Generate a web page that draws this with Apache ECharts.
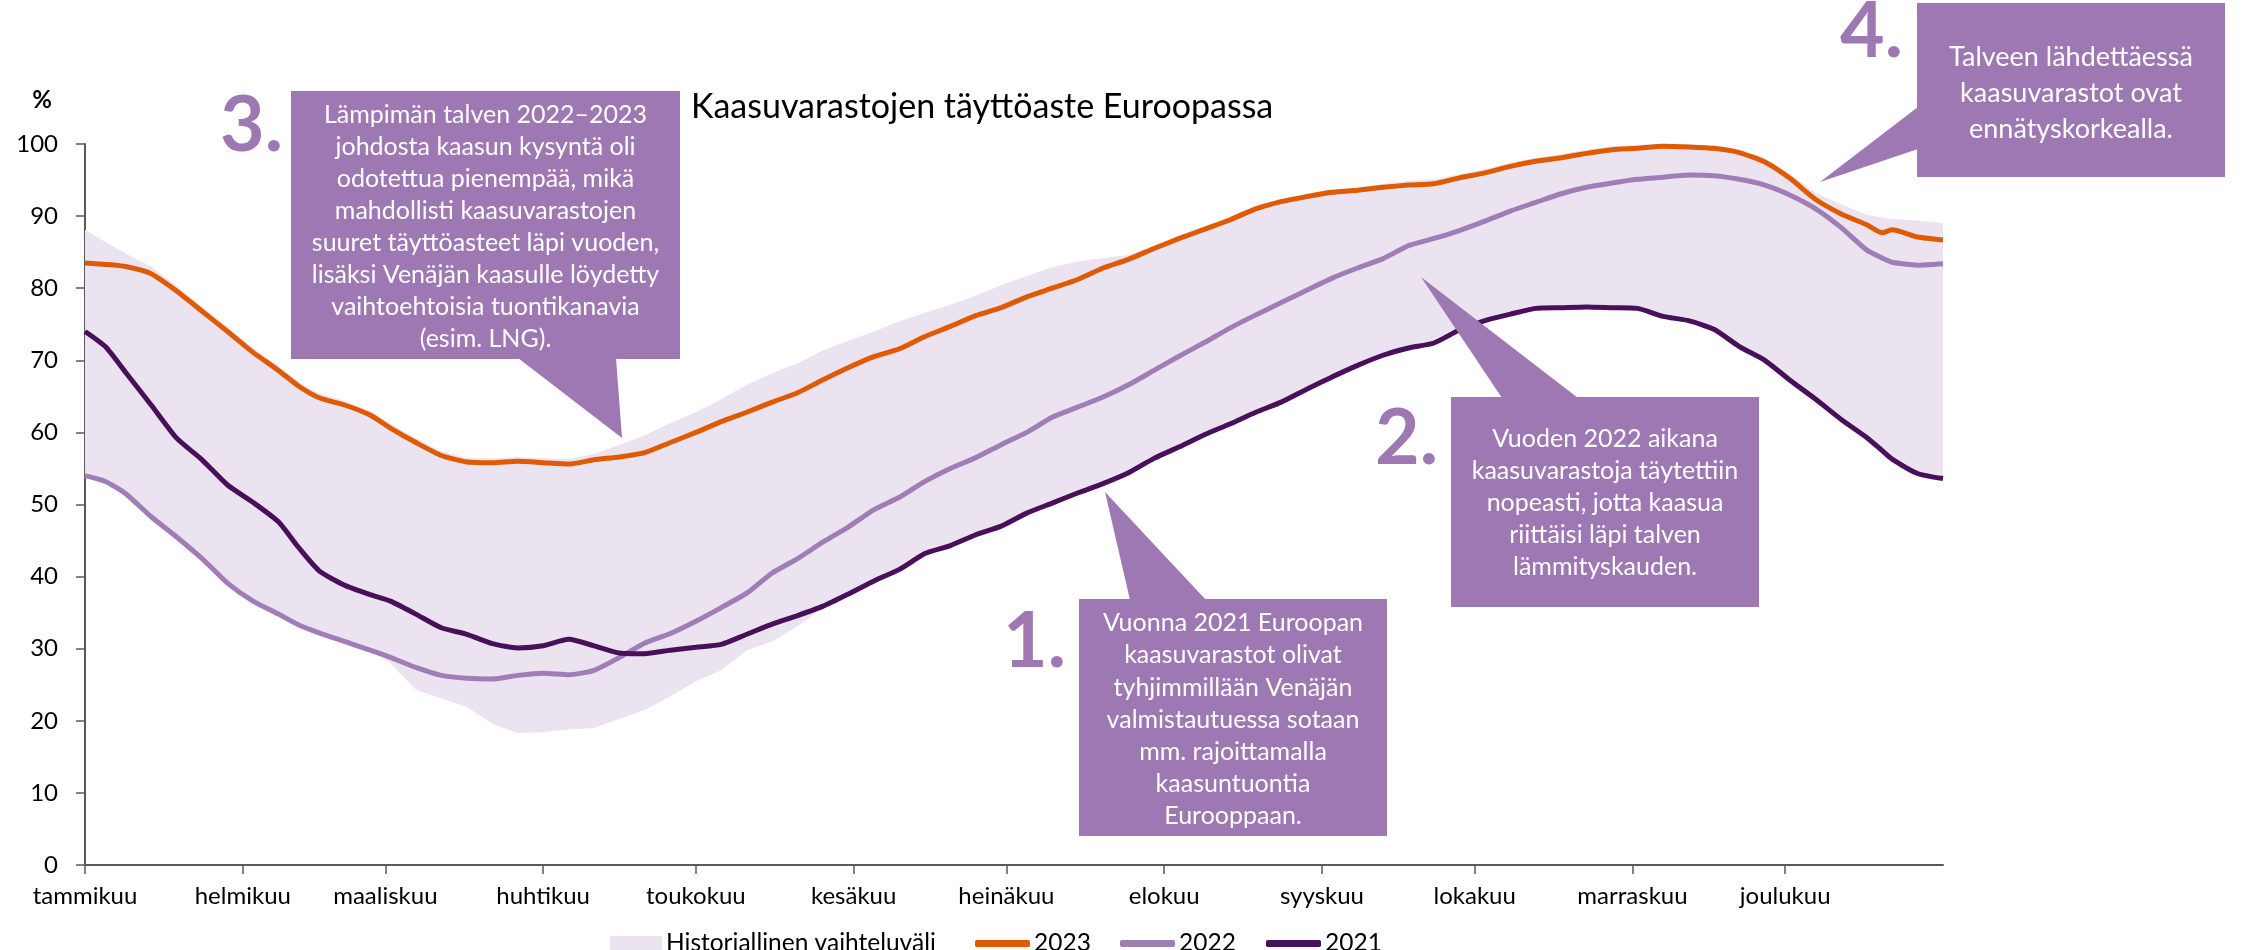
<!DOCTYPE html>
<html>
<head>
<meta charset="utf-8">
<script src="https://cdn.jsdelivr.net/npm/echarts@6/dist/echarts.min.js"></script>
<style>
html,body{margin:0;padding:0;background:#ffffff;}
#chart{width:2244px;height:950px;}
</style>
</head>
<body>
<div id="chart"></div>
<script>
// ---- Data (day of year, storage fill %) ----
const days = [0,4,8,13,18,23,28,33,38,42,46,51,56,60,65,70,75,80,85,90,95,100,105,110,115,120,125,130,135,140,145,150,155,160,165,170,175,180,185,190,195,200,205,210,215,220,225,230,235,240,245,250,255,260,265,270,275,280,285,290,295,300,305,310,315,320,325,330,335,340,345,350,353,355,360,365];

const s2023 = [83.5,83.3,83.0,82.0,79.6,76.8,74.0,71.1,68.6,66.4,64.8,63.8,62.4,60.6,58.6,56.8,55.9,55.8,56.0,55.8,55.6,56.2,56.6,57.2,58.6,60.0,61.5,62.8,64.2,65.5,67.3,69.0,70.5,71.6,73.3,74.7,76.2,77.3,78.8,80.0,81.2,82.8,84.0,85.5,86.9,88.2,89.5,91.0,92.0,92.7,93.3,93.6,94.0,94.3,94.5,95.3,96.0,96.9,97.6,98.1,98.7,99.2,99.4,99.7,99.6,99.4,98.8,97.5,95.2,92.3,90.3,88.8,87.7,88.1,87.1,86.7];

const s2022 = [54.0,53.2,51.5,48.3,45.5,42.5,39.1,36.6,34.8,33.3,32.2,31.0,29.8,28.8,27.4,26.3,25.9,25.8,26.3,26.6,26.4,27.0,28.8,30.8,32.1,33.8,35.7,37.7,40.5,42.5,44.8,46.9,49.3,51.0,53.2,55.0,56.5,58.3,60.0,62.1,63.5,64.9,66.6,68.6,70.6,72.5,74.5,76.3,78.0,79.7,81.4,82.8,84.1,85.9,86.9,88.0,89.3,90.7,91.9,93.1,94.0,94.6,95.1,95.4,95.7,95.6,95.1,94.3,92.9,91.0,88.4,85.3,84.2,83.6,83.2,83.4];

const s2021 = [74.0,71.9,68.3,63.8,59.2,56.2,52.7,50.3,47.6,44.0,40.8,38.8,37.5,36.6,34.8,32.9,32.0,30.7,30.1,30.4,31.3,30.4,29.4,29.3,29.8,30.2,30.6,32.0,33.4,34.6,35.9,37.6,39.4,41.0,43.2,44.3,45.8,47.0,48.8,50.2,51.6,52.9,54.4,56.4,58.0,59.7,61.2,62.8,64.2,66.0,67.7,69.3,70.7,71.7,72.4,74.2,75.5,76.4,77.2,77.3,77.4,77.3,77.2,76.1,75.5,74.3,71.9,70.0,67.2,64.6,61.8,59.3,57.5,56.3,54.3,53.6];

// Historical range (lower and upper edge)
const bandLow = [54.0,53.2,51.5,48.3,45.5,42.5,39.1,36.6,34.8,33.3,32.2,31.0,29.8,28.0,24.3,23.1,21.9,19.6,18.3,18.4,18.8,19.0,20.3,21.5,23.4,25.5,27.0,29.8,31.0,33.1,35.7,37.6,39.4,41.0,43.2,44.3,45.8,47.0,48.8,50.2,51.6,52.9,54.4,56.4,58.0,59.7,61.2,62.8,64.2,66.0,67.7,69.3,70.7,71.7,72.4,74.2,75.5,76.4,77.2,77.3,77.4,77.3,77.2,76.1,75.5,74.3,71.9,70.0,67.2,64.6,61.8,59.3,57.5,56.3,54.3,53.6];

const bandHigh = [88.1,86.4,84.8,83.0,80.3,77.4,74.6,71.7,69.2,67.0,65.4,64.4,63.0,61.2,59.2,57.4,56.5,56.4,56.6,56.4,56.3,57.0,58.3,59.6,61.3,62.8,64.6,66.6,68.2,69.6,71.4,72.7,74.0,75.4,76.6,77.7,79.0,80.4,81.7,82.9,83.7,84.2,84.6,85.9,87.3,88.6,89.9,91.4,92.4,93.1,93.7,94.0,94.5,94.9,95.1,95.8,96.5,97.4,98.1,98.6,99.2,99.7,99.9,100.0,100.0,99.8,99.2,98.0,95.8,93.2,91.6,90.2,89.8,89.6,89.4,89.0];

const monthStarts = [0,31,59,90,120,151,181,212,243,273,304,334];
const monthNames = ['tammikuu','helmikuu','maaliskuu','huhtikuu','toukokuu','kesäkuu','heinäkuu','elokuu','syyskuu','lokakuu','marraskuu','joulukuu'];

const titleText = 'Kaasuvarastojen täyttöaste Euroopassa';
const bandName = 'Historiallinen vaihteluväli';

const note1 = 'Vuonna 2021 Euroopan\nkaasuvarastot olivat\ntyhjimmillään Venäjän\nvalmistautuessa sotaan\nmm. rajoittamalla\nkaasuntuontia\nEurooppaan.';
const note2 = 'Vuoden 2022 aikana\nkaasuvarastoja täytettiin\nnopeasti, jotta kaasua\nriittäisi läpi talven\nlämmityskauden.';
const note3 = 'Lämpimän talven 2022–2023\njohdosta kaasun kysyntä oli\nodotettua pienempää, mikä\nmahdollisti kaasuvarastojen\nsuuret täyttöasteet läpi vuoden,\nlisäksi Venäjän kaasulle löydetty\nvaihtoehtoisia tuontikanavia\n(esim. LNG).';
const note4 = 'Talveen lähdettäessä\nkaasuvarastot ovat\nennätyskorkealla.';

// ---- Styles ----
const C_ORANGE = '#df5a00';
const C_2022 = '#a07db6';
const C_2021 = '#4a0f5a';
const C_BAND = '#ebe3f0';
const C_BOX = '#9e78b3';
const C_AXIS = '#595959';
const FONT = 'Lato';

function pairs(vals){ return days.map((d,i)=>[d, vals[i]]); }

const chart = echarts.init(document.getElementById('chart'), null, {renderer:'canvas'});

function box(x,y,w,h,poly){
  return [
    {type:'rect', z:100, shape:{x:x,y:y,width:w,height:h}, style:{fill:C_BOX}},
    {type:'polygon', z:100, shape:{points:poly}, style:{fill:C_BOX}}
  ];
}
function boxText(cx, top, txt, size, lh){
  return {type:'text', z:101, style:{text:txt, x:cx, y:top, fill:'#ffffff', font:'normal '+size+'px '+FONT, textAlign:'center', textVerticalAlign:'top', lineHeight:lh}};
}
function bigNum(rx, cy, txt){
  return {type:'text', z:101, style:{text:txt, x:rx, y:cy, fill:C_BOX, font:'bold 77px '+FONT, textAlign:'right', textVerticalAlign:'middle'}};
}

const graphics = [].concat(
  box(291,91,389,268,[[518,358],[616,358],[622,438]]),
  box(1079,599,308,237,[[1130,600],[1206,600],[1105,492]]),
  box(1451,397,308,210,[[1502,398],[1578,398],[1421,277]]),
  box(1917,3,308,174,[[1918,107],[1918,149],[1820,182]]),
  [
    boxText(485.5, 99, note3, 25, 32),
    boxText(1233, 607, note1, 25, 32.2),
    boxText(1605, 423, note2, 25, 32),
    boxText(2071, 39, note4, 27, 36),
    bigNum(283, 126, '3.'),
    bigNum(1066, 642, '1.'),
    bigNum(1438, 439, '2.'),
    bigNum(1903, 32, '4.'),
    {type:'text', z:101, style:{text:titleText, x:691, y:107, fill:'#000000', font:'normal 34px '+FONT, textAlign:'left', textVerticalAlign:'middle'}},
    {type:'text', z:101, style:{text:'%', x:42, y:100, fill:'#000000', font:'bold 24px '+FONT, textAlign:'center', textVerticalAlign:'middle'}}
  ]
);

function legendAt(left, item, w, h){
  return {
    left:left, top:926, orient:'horizontal', selectedMode:false,
    itemWidth:w, itemHeight:h, itemGap:0,
    data:[item],
    textStyle:{fontFamily:FONT, fontSize:24.5, color:'#000000', padding:[0,0,0,-1]}
  };
}

const option = {
  animation:false,
  backgroundColor:'#ffffff',
  textStyle:{fontFamily:FONT},
  grid:{left:85, right:301, top:144, bottom:85, containLabel:false},
  legend:[
    legendAt(605, {name:bandName, icon:'rect'}, 52, 15),
    legendAt(970, {name:'2023', icon:'roundRect'}, 55, 7),
    legendAt(1115, {name:'2022', icon:'roundRect'}, 55, 7),
    legendAt(1261, {name:'2021', icon:'roundRect'}, 55, 7)
  ],
  xAxis:{
    type:'value', min:0, max:365,
    axisLine:{show:true, onZero:false, lineStyle:{color:C_AXIS, width:2}},
    axisTick:{show:true, customValues:monthStarts, length:9, lineStyle:{color:C_AXIS, width:1.5}},
    axisLabel:{show:true, customValues:monthStarts, margin:19, fontSize:24, color:'#000000', fontFamily:FONT,
      formatter:function(v){ const i = monthStarts.indexOf(Math.round(v)); return i>=0 ? monthNames[i] : ''; }},
    splitLine:{show:false}
  },
  yAxis:{
    type:'value', min:0, max:100, interval:10,
    axisLine:{show:true, lineStyle:{color:C_AXIS, width:2}},
    axisTick:{show:true, length:9, lineStyle:{color:C_AXIS, width:1.5}},
    axisLabel:{margin:27, fontSize:24, color:'#000000', fontFamily:FONT},
    splitLine:{show:false}
  },
  graphic:graphics,
  series:[
    {name:bandName, type:'custom', silent:true, z:1,
     itemStyle:{color:C_BAND},
     data:days.map((d,i)=>[d, bandLow[i], bandHigh[i]]),
     encode:{x:0, y:[1,2]},
     renderItem:function(params, api){
       if (params.dataIndex !== 0) return null;
       const pts = [];
       for (let i=0;i<days.length;i++) pts.push(api.coord([days[i], bandHigh[i]]));
       for (let i=days.length-1;i>=0;i--) pts.push(api.coord([days[i], bandLow[i]]));
       return {type:'polygon', shape:{points:pts}, style:{fill:C_BAND}};
     }},
    {name:'2022', type:'line', data:pairs(s2022), symbol:'none', smooth:0.2,
     lineStyle:{color:C_2022, width:5}, itemStyle:{color:C_2022}, z:3},
    {name:'2021', type:'line', data:pairs(s2021), symbol:'none', smooth:0.2,
     lineStyle:{color:C_2021, width:5}, itemStyle:{color:C_2021}, z:4},
    {name:'2023', type:'line', data:pairs(s2023), symbol:'none', smooth:0.2,
     lineStyle:{color:C_ORANGE, width:5}, itemStyle:{color:C_ORANGE}, z:5}
  ]
};
chart.setOption(option);
</script>
</body>
</html>
